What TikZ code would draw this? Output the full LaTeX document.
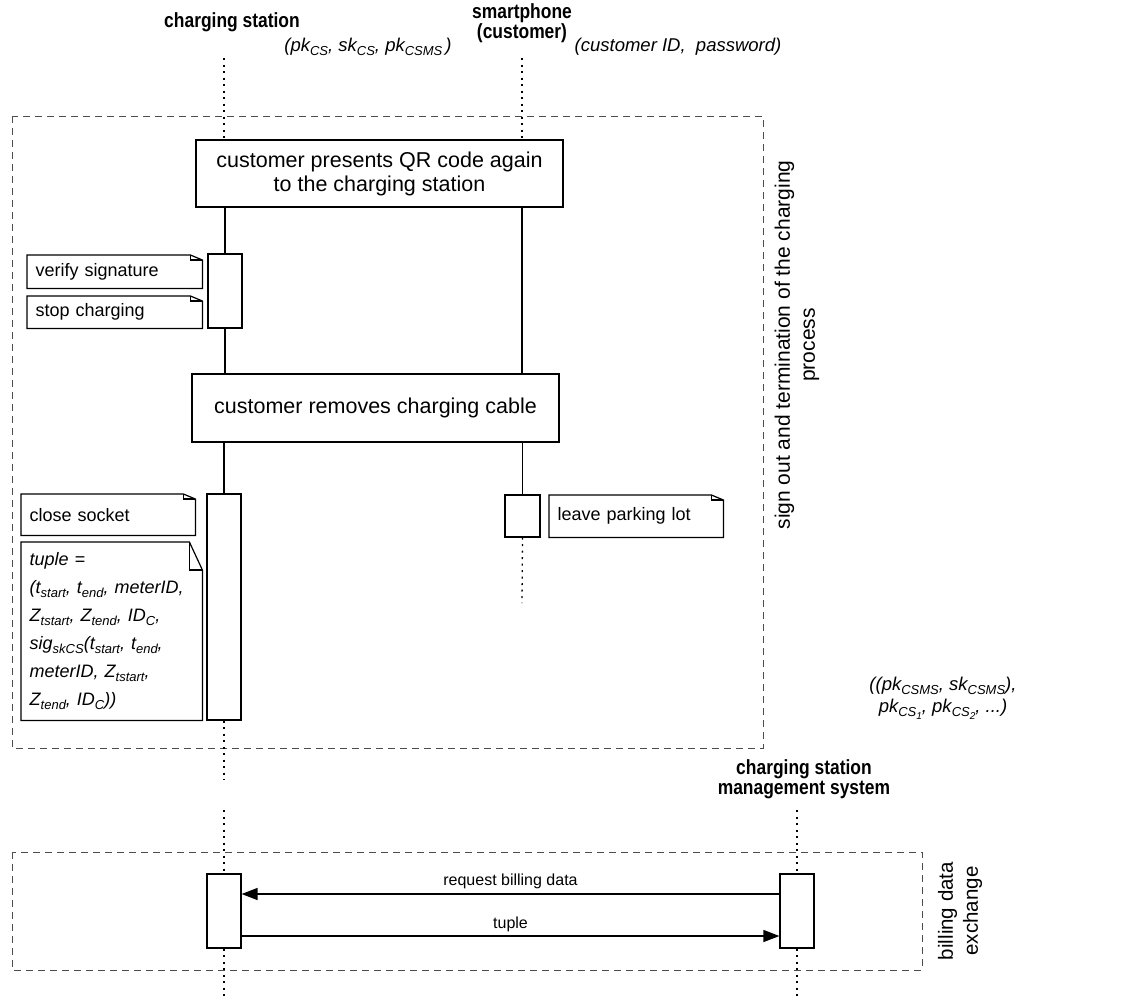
\documentclass[tikz,border=0pt]{standalone}
\usepackage{fontspec}
\setmainfont{Liberation Sans}
\newfontfamily\headfont{Liberation Sans}[FakeStretch=0.85]
\usetikzlibrary{arrows.meta}
\newcommand\sbs[1]{\raisebox{-4pt}{\fontsize{13}{13}\selectfont #1}}
\newcommand\ssbs[1]{\raisebox{-3pt}{\fontsize{10}{10}\selectfont #1}}
\newcommand\notedraw[3]{%
  \draw[noteline] (#1.north west) -- ([xshift=-#2pt]#1.north east) -- ([yshift=-#3pt]#1.north east) -- (#1.south east) -- (#1.south west) -- cycle;
  \draw[noteline] ([xshift=-#2pt]#1.north east) -- ([xshift=-#2pt,yshift=-#3pt]#1.north east) -- ([yshift=-#3pt]#1.north east);}
\tikzset{
  bigbox/.style={draw, line width=1.2pt, fill=white, minimum width=367pt, minimum height=67pt, align=center, font=\fontsize{21.5}{24}\selectfont, inner sep=0pt},
  actbox/.style={draw, line width=1.2pt, fill=white, minimum width=34pt, inner sep=0pt},
  notebox/.style={draw=none, anchor=north west, inner xsep=8.5pt, inner ysep=0pt, align=left, font=\fontsize{18}{22}\selectfont},
  noteline/.style={line width=1.2pt, line join=miter},
  head/.style={font=\headfont\bfseries\fontsize{20.5}{20}\selectfont, align=center, inner sep=0pt},
  keytext/.style={font=\itshape\fontsize{18.5}{21}\selectfont, align=center, inner sep=0pt},
  lifedot/.style={line width=1.3pt, dash pattern=on 2pt off 4.5pt},
  lifesolid/.style={line width=1.2pt},
  framebox/.style={line width=1pt, dash pattern=on 7pt off 5pt, draw=black!70},
  msg/.style={line width=1.3pt, -{Triangle[length=16pt,width=12pt]}},
  msglabel/.style={font=\fontsize{16}{16}\selectfont, inner sep=0pt},
  sidelabel/.style={rotate=90, align=center, font=\fontsize{21}{25}\selectfont, inner sep=0pt}
}
\begin{document}
\begin{tikzpicture}[x=1pt,y=-1pt]
\useasboundingbox (0,0) rectangle (1133,996);
% headers
\node[head] (hCS) at (232,22) {charging station};
\node[head] (hSP) at (522,23) {smartphone\\(customer)};
\node[keytext] (kCS) at (368,47) {(pk\sbs{CS}, sk\sbs{CS}, pk\sbs{CSMS}\,)};
\node[keytext] (kSP) at (678,47) {(customer ID,\ \ password)};
\coordinate (csT) at (224,58);
\coordinate (spT) at (522,58);
% frame 1
\draw[framebox] (12,116) rectangle (763,748);
\node[sidelabel] (lab1) at (797,345) {sign out and termination of the charging\\process};
% boxes
\node[bigbox] (qr) at (379.5,173.5) {customer presents QR code again\\to the charging station};
\node[actbox, minimum height=74pt] (a1) at (225,291) {};
\node[notebox, text width=158pt, minimum height=33pt] (n1) at (27,255) {verify signature};
\node[notebox, text width=158pt, minimum height=32pt] (n2) at (27,296) {stop charging};
\notedraw{n1}{12}{5}
\notedraw{n2}{12}{5}
\node[bigbox, minimum height=68pt] (rm) at (375.5,408) {customer removes charging cable};
\node[actbox, minimum height=226pt] (a2) at (224,607) {};
\node[actbox, minimum width=35pt, minimum height=42pt] (a3) at (522.5,516) {};
\node[notebox, text width=157pt, minimum height=41pt] (n3) at (21,494) {close socket};
\notedraw{n3}{12}{5}
\node[notebox, text width=164pt, minimum height=178pt, font=\itshape\fontsize{18}{28}\selectfont] (n4) at (21,542) {tuple =\\
(t\sbs{start}, t\sbs{end}, meterID,\\
Z\sbs{tstart}, Z\sbs{tend}, ID\sbs{C},\\
sig\sbs{skCS}(t\sbs{start}, t\sbs{end},\\
meterID, Z\sbs{tstart},\\
Z\sbs{tend}, ID\sbs{C}))};
\notedraw{n4}{13}{28}
\node[notebox, text width=157pt, minimum height=42pt] (n5) at (549,495) {leave parking lot};
\notedraw{n5}{12}{5}
\coordinate (spEnd) at (522,603);
\coordinate (csMid) at (224,780);
% lifelines
\draw[lifedot] (csT) -- (qr.north -| csT);
\draw[lifedot] (spT) -- (qr.north -| spT);
\draw[lifesolid] (qr.south -| a1) -- (a1.north);
\draw[lifesolid] (a1.south) -- (rm.north -| a1);
\draw[lifesolid] (qr.south -| spT) -- (rm.north -| spT);
\draw[lifesolid] (rm.south -| a2) -- (a2.north);
\draw[lifesolid] (rm.south -| a3) -- (a3.north);
\draw[lifedot] (a3.south) -- (spEnd);
\draw[lifedot] (a2.south) -- (csMid);
% CSMS keys and header
\node[keytext, font=\itshape\fontsize{18.5}{22}\selectfont] (kCSMS) at (943,698) {((pk\sbs{CSMS}, sk\sbs{CSMS}),\\pk\sbs{CS\ssbs{1}}, pk\sbs{CS\ssbs{2}}, ...)};
\node[head] (hCSMS) at (804,779) {charging station\\management system};
% frame 2
\draw[framebox] (12,852) rectangle (922,970);
\node[sidelabel, font=\fontsize{20.5}{25}\selectfont] (lab2) at (960,911) {billing data\\exchange};
\coordinate (cs2T) at (224,810);
\coordinate (msT) at (797,810);
\coordinate (cs2B) at (224,996);
\coordinate (msB) at (797,996);
\node[actbox, minimum height=74pt] (a4) at (224,911) {};
\node[actbox, minimum height=74pt] (a5) at (797,911) {};
\draw[lifedot] (cs2T) -- (a4.north);
\draw[lifedot] (msT) -- (a5.north);
\draw[lifedot] (a4.south) -- (cs2B);
\draw[lifedot] (a5.south) -- (msB);
\coordinate (reqY) at (0,894);
\coordinate (tupY) at (0,936);
\draw[msg] (a5.west |- reqY) -- node[msglabel, above=5pt] {request billing data} (a4.east |- reqY);
\draw[msg] (a4.east |- tupY) -- node[msglabel, above=4pt] {tuple} (a5.west |- tupY);
\end{tikzpicture}
\end{document}
